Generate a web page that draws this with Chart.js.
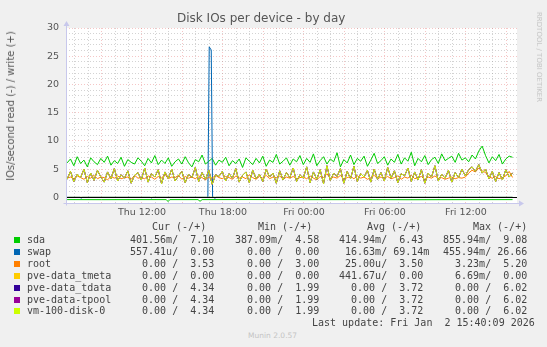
<!DOCTYPE html>
<html>
<head>
<meta charset="utf-8">
<script src="https://cdn.jsdelivr.net/npm/chart.js@4.4.1/dist/chart.umd.min.js"></script>
<style>
  html, body { margin: 0; padding: 0; background: #f0f0f0; }
  #wrap { position: relative; width: 547px; height: 347px; overflow: hidden; font-family: 'DejaVu Sans', sans-serif; color: #555; }
  #chart { position: absolute; left: 0; top: 0; }
  .t { position: absolute; white-space: pre; line-height: 12px; }
  .mono { font-family: 'DejaVu Sans Mono', monospace; font-size: 10px; color: #444; }
  .box { position: absolute; width: 6px; height: 6px; }
</style>
</head>
<body>
<div id="wrap">
  <canvas id="chart" width="547" height="230"></canvas>
  <div class="t" style="left:177px;top:12px;font-size:12px;color:#555;">Disk IOs per device - by day</div>
  <div class="t" style="left:11px;top:106px;font-size:10px;color:#555;transform:translate(-50%,-50%) rotate(-90deg);">IOs/second read (-) / write (+)</div>
  <div class="t" style="left:539px;top:57px;font-size:7px;color:#c4c4c4;transform:translate(-50%,-50%) rotate(90deg);">RRDTOOL / TOBI OETIKER</div>
  <div class="t" style="left:248px;top:330px;font-size:7.5px;color:#c4c4c4;">Munin 2.0.57</div>
  <div id="legend"></div>
</div>
<script>
// time axis: hours since Thu 00:00, one sample every 15 min
const START_H = 6.45;
const STEP_H = 0.25;
const X_MIN = 6.37;
const X_MAX = 39.78;

const xLabelHours = [12, 18, 24, 30, 36];
const xLabelText = ['Thu 12:00', 'Thu 18:00', 'Fri 00:00', 'Fri 06:00', 'Fri 12:00'];
const yLabelValues = [0, 5, 10, 15, 20, 25, 30];

// write (+) series
const sdaWrite = [
  6.1, 6.8, 5.6, 7.2, 6.0, 6.6, 5.4, 7.0, 6.3, 5.8, 6.9, 6.2, 7.3, 5.7, 6.5, 6.0, 7.1, 5.5, 6.7, 6.2, 5.9, 7.0,
  6.4, 5.6, 6.9, 6.1, 7.4, 5.8, 6.6, 6.0, 7.0, 5.5, 6.3, 6.8, 5.9, 7.2, 6.1, 5.4, 6.7, 6.3, 7.5, 5.9, 6.4, 6.9, 5.7, 6.6,
  6.2, 7.1, 5.6, 6.5, 6.0, 6.8, 5.3, 7.0, 6.4, 5.8, 6.9, 6.1, 7.3, 5.5, 6.6, 6.2, 7.6, 5.9, 6.4, 7.0, 5.7, 6.8, 6.3, 7.4,
  5.8, 6.9, 6.2, 7.7, 5.6, 6.5, 7.2, 5.9, 6.8, 6.3, 7.9, 5.4, 6.7, 6.1, 7.5, 5.8, 6.9, 6.4, 7.3, 5.5, 6.6, 7.8, 6.0, 6.5,
  7.2, 5.7, 6.8, 6.2, 7.6, 5.9, 7.0, 6.4, 8.0, 5.6, 6.9, 6.3, 7.4, 5.8, 6.7, 7.1, 6.0, 7.7, 6.5, 6.9, 7.3, 6.2, 7.8, 6.6,
  7.0, 6.3, 7.5, 6.8, 8.2, 9.08, 7.4, 6.1, 7.2, 6.5, 7.6, 5.9, 6.8, 7.3, 7.1
];
const rootWrite = [
  3.4, 3.6, 3.3, 3.8, 3.5, 3.2, 3.7, 3.4, 3.9, 3.3, 3.6, 3.5, 3.1, 3.7, 3.4, 3.8, 3.3, 3.5, 3.6, 3.2, 3.9, 3.4,
  3.5, 3.3, 3.8, 3.6, 3.2, 3.7, 3.4, 4.1, 3.3, 3.6, 3.5, 3.9, 3.2, 3.7, 3.4, 3.6, 3.3, 3.8, 3.5, 3.1, 3.6, 3.4, 3.9, 3.5,
  3.3, 3.7, 3.5, 3.2, 3.8, 3.4, 3.6, 3.3, 4.0, 3.5, 3.2, 3.7, 3.4, 3.9, 3.3, 3.6, 3.5, 3.8, 3.2, 3.6, 3.4, 3.7, 3.3, 3.5,
  3.6, 3.3, 3.8, 3.4, 3.1, 3.7, 3.5, 4.2, 3.3, 3.6, 3.4, 3.9, 3.2, 3.5, 3.7, 3.3, 3.8, 3.4, 3.6, 3.2, 3.5, 3.9, 3.3, 3.6,
  3.4, 3.7, 3.3, 3.5, 3.8, 3.2, 3.6, 3.4, 3.9, 3.3, 3.5, 3.7, 3.1, 3.6, 3.4, 3.8, 3.3, 3.5, 3.2, 3.4, 3.6, 3.3, 3.5, 3.4,
  3.6, 4.3, 4.8, 4.5, 5.2, 4.7, 4.4, 3.6, 3.4, 3.7, 3.3, 3.5, 3.8, 4.6, 3.53
];
// pve-data_tdata, pve-data-tpool and vm-100-disk-0 carry the same values
const lvWrite = [
  3.2, 4.6, 2.8, 4.1, 3.5, 5.0, 2.6, 4.3, 3.0, 4.8, 3.6, 2.7, 4.5, 3.3, 5.1, 2.9, 4.0, 3.4, 4.7, 2.5, 3.9, 4.4,
  3.1, 5.2, 2.7, 4.2, 3.6, 4.9, 2.4, 4.5, 3.3, 5.0, 2.9, 3.8, 4.6, 2.6, 4.1, 3.5, 5.3, 2.8, 4.4, 3.2, 4.8, 2.3, 4.0, 3.7,
  4.6, 2.9, 4.2, 3.4, 5.1, 2.7, 3.9, 4.5, 2.6, 4.8, 3.3, 4.1, 2.8, 5.0, 3.6, 4.3, 2.5, 4.7, 3.1, 4.4, 3.5, 5.2, 2.8, 4.0,
  3.4, 5.4, 2.6, 4.5, 3.2, 4.9, 2.4, 5.6, 3.0, 4.3, 3.7, 5.1, 2.5, 4.6, 3.3, 5.5, 2.8, 4.2, 3.6, 4.8, 2.7, 5.0, 3.2, 4.4,
  2.9, 5.3, 3.4, 4.7, 2.6, 4.2, 3.8, 5.2, 2.8, 4.5, 3.1, 4.9, 2.5, 4.3, 3.6, 5.6, 2.9, 4.1, 3.4, 4.8, 2.7, 4.4, 3.5, 5.0,
  3.8, 4.9, 5.4, 4.6, 5.8, 4.3, 5.0, 3.3, 4.6, 2.8, 4.4, 3.1, 4.9, 3.6, 4.34
];
const swapTimes = [6.45, 16.88, 16.98, 17.13, 17.23, 39.45];
const swapWrite = [0, 0, 26.66, 26.1, 0, 0];
const tmetaTimes = [6.45, 39.45];
const tmetaWrite = [0, 0];

// read (-) series, plotted below zero
const sdaReadTimes = [6.45, 9, 12, 13.8, 13.93, 14.06, 16.15, 16.3, 16.45, 20, 24, 28, 32, 36, 39.45];
const sdaRead = [-0.40, -0.41, -0.40, -0.40, -0.75, -0.40, -0.40, -0.70, -0.40, -0.39, -0.41, -0.40, -0.42, -0.40, -0.40];
const swapReadTimes = [6.45, 7.4, 7.5, 7.6, 12.6, 12.7, 12.8, 17.3, 17.4, 17.5, 25.2, 25.3, 25.4, 39.45];
const swapRead = [0, 0, -0.12, 0, 0, -0.1, 0, 0, -0.15, 0, 0, -0.1, 0, 0];

// legend table
const names = ['sda', 'swap', 'root', 'pve-data_tmeta', 'pve-data_tdata', 'pve-data-tpool', 'vm-100-disk-0'];
const colors = ['#00cc00', '#0066b3', '#ff8000', '#ffcc00', '#330099', '#990099', '#ccff00'];
const curVals = ['401.56m/  7.10', '557.41u/  0.00', '  0.00 /  3.53', '  0.00 /  0.00', '  0.00 /  4.34', '  0.00 /  4.34', '  0.00 /  4.34'];
const minVals = ['387.09m/  4.58', '  0.00 /  0.00', '  0.00 /  3.00', '  0.00 /  0.00', '  0.00 /  1.99', '  0.00 /  1.99', '  0.00 /  1.99'];
const avgVals = ['414.94m/  6.43', ' 16.63m/ 69.14m', ' 25.00u/  3.50', '441.67u/  0.00', '  0.00 /  3.72', '  0.00 /  3.72', '  0.00 /  3.72'];
const maxVals = ['855.94m/  9.08', '455.94m/ 26.66', '  3.23m/  5.20', '  6.69m/  0.00', '  0.00 /  6.02', '  0.00 /  6.02', '  0.00 /  6.02'];
const headers = ['Cur (-/+)', 'Min (-/+)', 'Avg (-/+)', 'Max (-/+)'];
const lastUpdate = 'Last update: Fri Jan  2 15:40:09 2026';

function series(values) {
  return values.map((v, i) => ({ x: START_H + i * STEP_H, y: v }));
}
function pairs(times, values) {
  return times.map((t, i) => ({ x: t, y: values[i] }));
}

function renderLegend() {
  const el = document.getElementById('legend');
  const headX = [152, 258, 367, 473];
  const colX = [130, 235, 339, 443];
  let html = '';
  headers.forEach((h, i) => {
    html += `<div class="t mono" style="left:${headX[i]}px;top:221px;">${h}</div>`;
  });
  names.forEach((n, r) => {
    const y = 234 + r * 11.9;
    html += `<div class="box" style="left:14px;top:${y + 3}px;background:${colors[r]};"></div>`;
    html += `<div class="t mono" style="left:27px;top:${y}px;">${n}</div>`;
    [curVals, minVals, avgVals, maxVals].forEach((col, c) => {
      html += `<div class="t mono" style="left:${colX[c]}px;top:${y}px;">${col[r]}</div>`;
    });
  });
  html += `<div class="t mono" style="left:312px;top:317px;">${lastUpdate}</div>`;
  el.innerHTML = html;
}

const MAJOR = 'rgba(230,120,120,0.42)';
const MINOR = 'rgba(150,150,150,0.42)';
const AXIS = '#c8c8ec';

const muninPlugin = {
  id: 'munin',
  beforeDraw(chart) {
    const { ctx, chartArea: a } = chart;
    ctx.save();
    ctx.fillStyle = '#ffffff';
    ctx.fillRect(a.left, a.top, a.right - a.left, a.bottom - a.top);
    ctx.restore();
  },
  afterDatasetsDraw(chart) {
    const { ctx, chartArea: a, scales } = chart;
    const y0 = Math.round(scales.y.getPixelForValue(0)) + 0.5;
    ctx.save();
    ctx.strokeStyle = '#000000';
    ctx.lineWidth = 1;
    ctx.beginPath();
    ctx.moveTo(a.left, y0);
    ctx.lineTo(a.right, y0);
    ctx.stroke();
    // axes with arrow heads
    const left = Math.round(a.left) + 0.5;
    const bottom = Math.round(a.bottom) + 0.5;
    ctx.strokeStyle = AXIS;
    ctx.fillStyle = AXIS;
    ctx.beginPath();
    ctx.moveTo(left, bottom + 2);
    ctx.lineTo(left, a.top - 3);
    ctx.moveTo(left - 3, bottom);
    ctx.lineTo(a.right + 3, bottom);
    ctx.stroke();
    ctx.beginPath();
    ctx.moveTo(left, a.top - 7);
    ctx.lineTo(left - 3, a.top - 2);
    ctx.lineTo(left + 3, a.top - 2);
    ctx.closePath();
    ctx.fill();
    ctx.beginPath();
    ctx.moveTo(a.right + 7, bottom);
    ctx.lineTo(a.right + 2, bottom - 3);
    ctx.lineTo(a.right + 2, bottom + 3);
    ctx.closePath();
    ctx.fill();
    ctx.restore();
  }
};

Chart.defaults.font.family = "'DejaVu Sans', sans-serif";
Chart.defaults.color = '#555';

function line(label, data, color, order) {
  return { label, data, borderColor: color, backgroundColor: color, borderWidth: 1, pointRadius: 0, tension: 0, order };
}

function renderChart() {
  const datasets = [
    line('sda', series(sdaWrite), colors[0], 9),
    line('sda read', pairs(sdaReadTimes, sdaRead), colors[0], 8),
    line('swap', pairs(swapTimes, swapWrite), colors[1], 7),
    line('swap read', pairs(swapReadTimes, swapRead), colors[1], 6),
    line('root', series(rootWrite), colors[2], 5),
    line('pve-data_tmeta', pairs(tmetaTimes, tmetaWrite), colors[3], 4),
    line('pve-data_tdata', series(lvWrite), colors[4], 3),
    line('pve-data-tpool', series(lvWrite), colors[5], 2),
    line('vm-100-disk-0', series(lvWrite), colors[6], 1),
  ];
  const hourTicks = [];
  for (let h = Math.ceil(X_MIN); h <= Math.floor(X_MAX); h++) hourTicks.push(h);
  const yTicks = [];
  for (let v = -1; v <= 30; v++) yTicks.push(v);

  new Chart(document.getElementById('chart'), {
    type: 'line',
    data: { datasets },
    options: {
      responsive: false,
      animation: false,
      layout: { padding: { top: 28, right: 30, left: 0, bottom: 0 } },
      plugins: { legend: { display: false }, tooltip: { enabled: false } },
      scales: {
        x: {
          type: 'linear',
          min: X_MIN,
          max: X_MAX,
          afterBuildTicks: s => { s.ticks = hourTicks.map(v => ({ value: v })); },
          afterFit: s => { s.height = 27; },
          grid: { drawTicks: false, color: c => (c.tick.value % 3 === 0 ? MAJOR : MINOR) },
          border: { display: false, dash: [1, 2] },
          ticks: {
            autoSkip: false, maxRotation: 0, padding: 4, color: '#555', font: { size: 9.5 },
            callback: v => { const k = xLabelHours.indexOf(v); return k >= 0 ? xLabelText[k] : ''; }
          }
        },
        y: {
          min: -1,
          max: 30,
          afterBuildTicks: s => { s.ticks = yTicks.map(v => ({ value: v })); },
          afterFit: s => { s.width = 66; },
          grid: {
            drawTicks: false,
            color: c => (c.tick.value === -1 ? 'rgba(0,0,0,0)' : (c.tick.value % 5 === 0 ? MAJOR : MINOR))
          },
          border: { display: false, dash: [1, 2] },
          ticks: {
            autoSkip: false, padding: 7, color: '#555', font: { size: 9.5 },
            callback: v => (yLabelValues.includes(v) ? String(v) : '')
          }
        }
      }
    },
    plugins: [muninPlugin]
  });
}

renderLegend();
renderChart();
</script>
</body>
</html>
